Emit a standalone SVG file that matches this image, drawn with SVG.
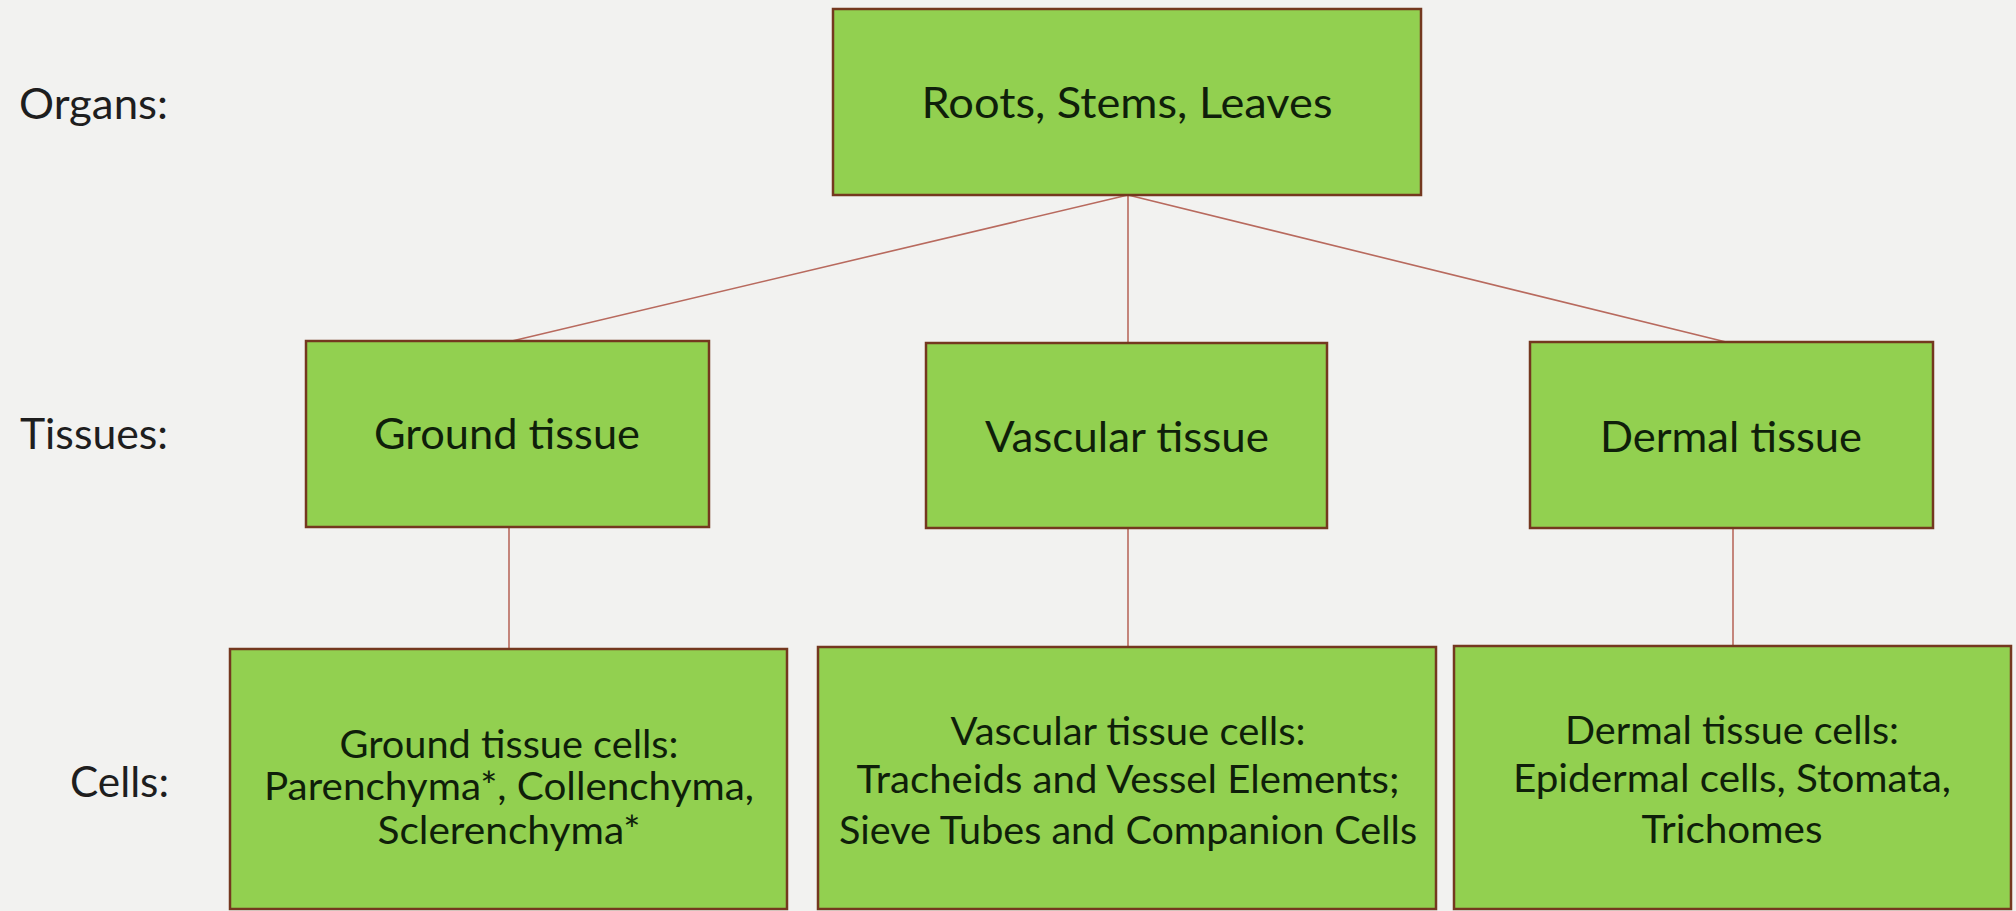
<svg xmlns="http://www.w3.org/2000/svg" width="2016" height="911" viewBox="0 0 2016 911">
<style>
.bg{fill:#f2f2f0}
.box{fill:#92d050;stroke:#74381f;stroke-width:2.5}
.conn{stroke:#b86a5e;stroke-width:1.6;fill:none}
.lbl{font-family:Lato,"Open Sans",sans-serif;font-size:43px;fill:#1e1e1e;text-anchor:end}
.big{font-family:Lato,"Open Sans",sans-serif;font-size:43px;fill:#0f1f0a;text-anchor:middle}
.cell{font-family:Lato,"Open Sans",sans-serif;font-size:38px;fill:#0f1f0a;text-anchor:middle}
</style>
<rect class="bg" x="0" y="0" width="2016" height="911"/>
<g id="level-labels">
<text class="lbl" x="168" y="119" textLength="149" lengthAdjust="spacingAndGlyphs">Organs:</text>
<text class="lbl" x="168" y="449" textLength="148" lengthAdjust="spacingAndGlyphs">Tissues:</text>
<text class="lbl" x="169" y="797" textLength="99" lengthAdjust="spacingAndGlyphs">Cells:</text>
</g>
<g id="connectors">
<line class="conn" x1="1128" y1="195" x2="512" y2="341"/>
<line class="conn" x1="1128" y1="195" x2="1128" y2="343"/>
<line class="conn" x1="1128" y1="195" x2="1726" y2="342"/>
<line class="conn" x1="509" y1="527" x2="509" y2="649"/>
<line class="conn" x1="1128" y1="528" x2="1128" y2="647"/>
<line class="conn" x1="1733" y1="528" x2="1733" y2="646"/>
</g>
<g id="organs">
<rect class="box" x="833" y="9" width="588" height="186"/>
<text class="big" x="1127" y="118" textLength="411" lengthAdjust="spacingAndGlyphs">Roots, Stems, Leaves</text>
</g>
<g id="ground-tissue">
<rect class="box" x="306" y="341" width="403" height="186"/>
<text class="big" x="507" y="449" textLength="266" lengthAdjust="spacingAndGlyphs">Ground tissue</text>
</g>
<g id="vascular-tissue">
<rect class="box" x="926" y="343" width="401" height="185"/>
<text class="big" x="1127" y="452" textLength="284" lengthAdjust="spacingAndGlyphs">Vascular tissue</text>
</g>
<g id="dermal-tissue">
<rect class="box" x="1530" y="342" width="403" height="186"/>
<text class="big" x="1731" y="452" textLength="262" lengthAdjust="spacingAndGlyphs">Dermal tissue</text>
</g>
<g id="ground-cells">
<rect class="box" x="230" y="649" width="557" height="260"/>
<text class="cell" x="509" y="758" textLength="339" lengthAdjust="spacingAndGlyphs">Ground tissue cells:</text>
<text class="cell" x="509" y="800" textLength="490" lengthAdjust="spacingAndGlyphs">Parenchyma*, Collenchyma,</text>
<text class="cell" x="509" y="844" textLength="263" lengthAdjust="spacingAndGlyphs">Sclerenchyma*</text>
</g>
<g id="vascular-cells">
<rect class="box" x="818" y="647" width="618" height="262"/>
<text class="cell" x="1128" y="745" textLength="355" lengthAdjust="spacingAndGlyphs">Vascular tissue cells:</text>
<text class="cell" x="1128" y="793" textLength="543" lengthAdjust="spacingAndGlyphs">Tracheids and Vessel Elements;</text>
<text class="cell" x="1128" y="844" textLength="578" lengthAdjust="spacingAndGlyphs">Sieve Tubes and Companion Cells</text>
</g>
<g id="dermal-cells">
<rect class="box" x="1454" y="646" width="557" height="263"/>
<text class="cell" x="1732" y="744" textLength="334" lengthAdjust="spacingAndGlyphs">Dermal tissue cells:</text>
<text class="cell" x="1732" y="792" textLength="438" lengthAdjust="spacingAndGlyphs">Epidermal cells, Stomata,</text>
<text class="cell" x="1732" y="843" textLength="181" lengthAdjust="spacingAndGlyphs">Trichomes</text>
</g>
</svg>
